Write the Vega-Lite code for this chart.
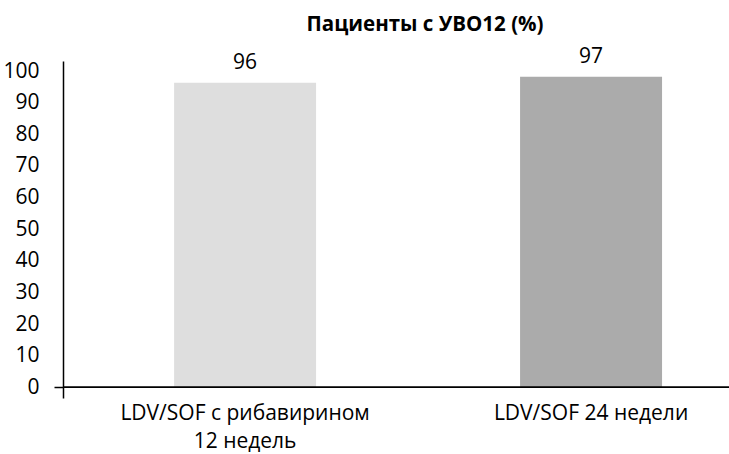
{
  "$schema": "https://vega.github.io/schema/vega-lite/v6.json",
  "autosize": {"type": "none"},
  "padding": {"left": 63, "top": 61, "right": 0, "bottom": 56},
  "width": 666,
  "height": 337,
  "background": "white",
  "config": {"view": {"stroke": null}, "font": "Open Sans"},
  "title": {"text": "Пациенты с УВО12 (%)", "fontSize": 20.5, "fontWeight": "bold", "font": "Open Sans", "color": "black", "anchor": "middle", "frame": "group", "dx": 29, "offset": 10},
  "data": {"values": [
    {"group": "LDV/SOF с рибавирином|12 недель", "value": 96.3, "label": "96", "color": "#dedede"},
    {"group": "LDV/SOF 24 недели", "value": 98.2, "label": "97", "color": "#ababab"}
  ]},
  "encoding": {
    "x": {"field": "group", "type": "nominal", "sort": null,
      "scale": {"paddingInner": 0.5896, "paddingOuter": 0.2573, "align": 0.624},
      "axis": {"title": null, "domain": false, "ticks": false, "labelAngle": 0, "labelFontSize": 21, "labelColor": "black", "labelPadding": 4, "labelLineHeight": 28, "labelLimit": 0, "labelExpr": "split(datum.value, '|')", "labelFont": "Open Sans"}},
    "y": {"field": "value", "type": "quantitative",
      "scale": {"domain": [-3.4, 103.2], "nice": false, "zero": false},
      "axis": {"title": null, "values": [0, 10, 20, 30, 40, 50, 60, 70, 80, 90, 100], "grid": false, "domainColor": "black", "domainWidth": 1.5, "tickSize": 9, "tickWidth": 1.5,
        "tickColor": {"condition": {"test": "datum.value === 0", "value": "black"}, "value": "transparent"},
        "labelOverlap": false, "labelPadding": 15, "labelFontSize": 21, "labelColor": "black", "labelFont": "Open Sans"}}
  },
  "layer": [
    {
      "mark": {"type": "bar"},
      "encoding": {
        "color": {"field": "color", "type": "nominal", "scale": null, "legend": null}
      }
    },
    {
      "mark": {"type": "text", "fontSize": 21, "baseline": "alphabetic", "dy": -14, "color": "black", "font": "Open Sans"},
      "encoding": {
        "text": {"field": "label"}
      }
    },
    {
      "mark": {"type": "rule", "color": "black", "strokeWidth": 1.5},
      "encoding": {"x": null, "y": {"datum": 0, "type": "quantitative"}}
    }
  ]
}
